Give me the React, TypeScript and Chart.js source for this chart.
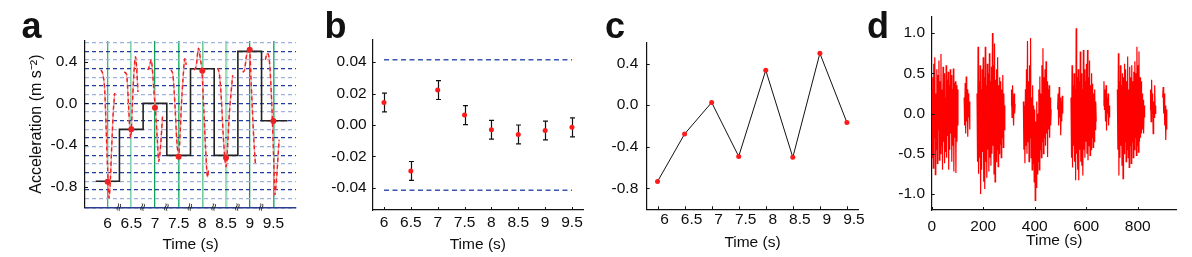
import React, { useEffect, useRef } from "react";
import { Chart, registerables } from "chart.js";

Chart.register(...registerables);

const FONT_FAMILY = 'Arial, "Liberation Sans", Helvetica, sans-serif';
const TICK_FONT = { family: FONT_FAMILY, size: 15.5 };
const TITLE_FONT = { family: FONT_FAMILY, size: 15.5 };
const TEXT = "#0d0d0d";
const H = 257;

// ---------- panel a ----------
const aXTicks = [6, 6.5, 7, 7.5, 8, 8.5, 9, 9.5];
const aYTicks = [-0.8, -0.4, 0, 0.4];
const aSampleT = [6, 6.5, 7, 7.5, 8, 8.5, 9, 9.5];
const aSampleV = [-0.754, -0.25, -0.042, -0.513, 0.313, -0.523, 0.515, -0.17];
const aStepT = [5.75, 6.25, 6.75, 7.25, 7.75, 8.25, 8.75, 9.25, 9.8];
const aStepV = [-0.75, -0.25, 0, -0.5, 0.3333, -0.5, 0.5, -0.1667, -0.1667];
const aCurveT = [
  5.86, 5.9, 5.94, 5.97, 6.0, 6.03, 6.06, 6.09, 6.12, 6.15, null,
  6.35, 6.4, 6.44, 6.47, 6.49, 6.52, 6.55, 6.59, 6.62, 6.64, null,
  6.85, 6.89, 6.92, 6.95, 6.98, 7.01, 7.05, 7.08, 7.12, 7.16, null,
  7.34, 7.38, 7.42, 7.46, 7.5, 7.53, 7.56, 7.59, 7.63, 7.66, null,
  7.83, 7.87, 7.92, 7.96, 7.99, 8.03, 8.07, 8.11, 8.13, null,
  8.32, 8.36, 8.4, 8.44, 8.47, 8.5, 8.54, 8.57, 8.61, 8.64, null,
  8.85, 8.89, 8.93, 8.97, 9.0, 9.03, 9.06, 9.09, 9.12, null,
  9.33, 9.37, 9.4, 9.43, 9.46, 9.48, 9.51, 9.53, 9.57, 9.62,
];
const aCurveV = [
  0.32, 0.28, 0.12, -0.25, -0.62, -0.91, -0.72, -0.38, -0.08, 0.1, null,
  0.3, 0.28, 0.0, -0.26, -0.33, -0.05, 0.25, 0.45, 0.29, 0.11, null,
  0.32, 0.37, 0.42, 0.3, 0.1, -0.06, -0.35, -0.56, -0.4, -0.12, null,
  0.32, 0.27, 0.0, -0.35, -0.51, -0.3, 0.0, 0.22, 0.43, 0.37, null,
  0.32, 0.36, 0.53, 0.42, 0.32, -0.05, -0.45, -0.71, -0.64, null,
  0.34, 0.28, 0.05, -0.3, -0.5, -0.61, -0.35, -0.1, 0.12, 0.27, null,
  0.3, 0.32, 0.45, 0.51, 0.5, 0.2, -0.1, -0.38, -0.58, null,
  0.42, 0.48, 0.46, 0.32, 0.05, -0.18, -0.6, -0.88, -0.7, -0.35,
];
const aLevels = [
  0.5833, 0.5, 0.4167, 0.3333, 0.25, 0.1667, 0.0833, 0, -0.0833, -0.1667,
  -0.25, -0.3333, -0.4167, -0.5, -0.5833, -0.6667, -0.75, -0.8333, -0.9167, -1,
];
const aBreaks = [6.25, 6.75, 7.25, 7.75, 8.25, 8.75, 9.25];

// ---------- panel b ----------
const bXTicks = [6, 6.5, 7, 7.5, 8, 8.5, 9, 9.5];
const bYTicks = [-0.04, -0.02, 0, 0.02, 0.04];
const bX = [6, 6.5, 7, 7.5, 8, 8.5, 9, 9.5];
const bY = [0.0143, -0.0292, 0.0222, 0.0063, -0.003, -0.006, -0.0035, -0.0015];
const bErr = [0.006, 0.006, 0.006, 0.006, 0.006, 0.006, 0.006, 0.006];
const bBoundT = [6, 9.5];
const bBounds = [0.0415, -0.0415];

// ---------- panel c ----------
const cXTicks = [6, 6.5, 7, 7.5, 8, 8.5, 9, 9.5];
const cYTicks = [-0.8, -0.4, 0, 0.4];
const cX = [6, 6.5, 7, 7.5, 8, 8.5, 9, 9.5];
const cY = [-0.733, -0.277, 0.026, -0.492, 0.335, -0.501, 0.498, -0.167];

// ---------- panel d ----------
const dXTicks = [0, 200, 400, 600, 800];
const dYTicks = [-1, -0.5, 0, 0.5, 1];
const dStep = 2;
const dStarts = [0, 126, 176, 308, 356, 489, 541, 667, 721, 848, 897];
const dB1 = [
  0.3, -0.55, 0.45, -0.68, 0.62, -0.3, 0.7, -0.76, 0.25, -0.45, 0.55, -0.62, 0.48, -0.2, 0.66, -0.58,
  0.4, -0.5, 0.74, -0.4, 0.3, -0.7, 0.58, -0.35, 0.5, -0.62, 0.2, -0.48, 0.6, -0.55, 0.42, -0.28,
  0.52, -0.7, 0.35, -0.45, 0.55, -0.25, 0.48, -0.6, 0.3, -0.4, 0.56, -0.72, 0.38, -0.3, 0.4, -0.74,
  0.35, -0.35, 0.3, -0.15,
];
const dB2 = [0.2, -0.15, 0.38, -0.25, 0.46, -0.1, 0.3, -0.29, 0.25, -0.05, 0.15, -0.2];
const dB3 = [
  0.25, -0.6, 0.83, -0.75, 0.4, -0.55, 0.6, -1.0, 0.3, -0.7, 0.55, -0.48, 0.7, -0.85, 0.45, -0.94,
  0.83, -0.6, 0.35, -0.8, 0.62, -0.45, 0.5, -0.72, 0.75, -0.55, 0.4, -0.65, 0.58, -0.5, 1.0, -0.4,
  0.6, -0.75, 0.87, -0.85, 0.42, -0.6, 0.55, -0.45, 0.7, -0.66, 0.35, -0.5, 0.45, -0.38, 0.4, -0.55,
  0.3, -0.3, 0.48, -0.42, 0.25, -0.2, 0.1,
];
const dB4 = [0.1, 0.3, -0.05, 0.35, 0.05, -0.15, 0.25, 0.0, 0.12];
const dB5 = [
  0.15, -0.45, 0.1, -0.62, 0.3, -0.4, 0.55, -0.5, 0.9, -0.35, 0.4, -0.6, 0.6, -0.3, 0.94, -0.55,
  0.2, -0.7, 0.35, -0.62, 0.1, -0.85, 0.05, -1.08, -0.1, -0.92, 0.15, -0.75, 0.0, -0.6, 0.3, -0.7,
  0.46, -0.45, 0.25, -0.55, 0.6, -0.35, 0.81, -0.5, 0.45, -0.3, 0.55, -0.4, 0.65, -0.25, 0.4, -0.54,
  0.3, -0.2, 0.35, -0.3, 0.2, -0.15, 0.05,
];
const dB6 = [0.05, 0.25, -0.15, 0.33, -0.05, 0.2, -0.27, 0.15, -0.1, 0.22, 0.0];
const dB7 = [
  0.2, -0.55, 0.6, -0.67, 0.35, -0.4, 0.5, -0.6, 0.3, -0.83, 1.06, -0.5, 0.45, -0.7, 0.55, -0.83,
  0.4, -0.45, 0.77, -0.6, 0.5, -0.65, 0.3, -0.77, 0.79, -0.45, 0.55, -0.55, 0.4, -0.35, 0.62, -0.5,
  0.79, -0.58, 0.45, -0.4, 0.66, -0.52, 0.35, -0.45, 0.5, -0.3, 0.37, -0.42, 0.25, -0.35, 0.3, -0.2,
  0.15, -0.1,
];
const dB8 = [0.1, 0.4, 0.05, 0.3, -0.1, 0.35, -0.21, 0.2, 0.0, 0.25, -0.15, 0.1, -0.05];
const dB9 = [
  0.3, -0.45, 0.75, -0.77, 0.4, -0.55, 0.6, -0.4, 0.35, -0.65, 0.5, -0.81, 0.45, -0.5, 0.62, -0.35,
  0.55, -0.6, 0.4, -0.45, 0.71, -0.55, 0.3, -0.67, 0.58, -0.4, 0.45, -0.62, 0.6, -0.35, 0.4, -0.55,
  0.52, -0.45, 0.65, -0.3, 0.5, -0.52, 0.83, -0.4, 0.6, -0.48, 0.77, -0.35, 0.45, -0.3, 0.4, -0.25,
  0.25, -0.2, 0.17, -0.25, 0.1, -0.05,
];
const dB10 = [0.05, 0.3, -0.1, 0.42, 0.0, 0.25, -0.25, 0.15, -0.05, 0.35, 0.0, 0.1];
const dB11 = [0.2, 0.33, 0.0, 0.25, -0.15, 0.1, -0.33, 0.05, -0.2];
const dBursts = [dB1, dB2, dB3, dB4, dB5, dB6, dB7, dB8, dB9, dB10, dB11];

// ---------- styles ----------
const aGreenColors = ["#2fba72", "#7fd6a6", "#12a05a", "#2fba72", "#6fcf9a", "#9fe0bd", "#0f9a55", "#2fba72"];
const aGreenWidths = [1.3, 1.6, 1.3, 1.6, 1.6, 2.5, 1.3, 1.6];
const BLUE_DARK = "#223d9c";
const BLUE_LIGHT = "#a2b2e0";

function fixedTicks(values: number[]) {
  return (scale: any) => {
    scale.ticks = values.map((v) => ({ value: v }));
  };
}

const inTicks = {
  id: "inTicks",
  afterDraw(chart: any, _args: any, opts: any) {
    const { ctx, chartArea } = chart;
    ctx.save();
    ctx.strokeStyle = "#111";
    ctx.lineWidth = 1;
    if (opts.x) {
      const s = chart.scales.x;
      s.ticks.forEach((t: any) => {
        const p = Math.round(s.getPixelForValue(t.value)) + 0.5;
        ctx.beginPath();
        ctx.moveTo(p, chartArea.bottom);
        ctx.lineTo(p, chartArea.bottom - 3);
        ctx.stroke();
      });
    }
    if (opts.y) {
      const s = chart.scales.y;
      s.ticks.forEach((t: any) => {
        const p = Math.round(s.getPixelForValue(t.value)) + 0.5;
        ctx.beginPath();
        ctx.moveTo(chartArea.left, p);
        ctx.lineTo(chartArea.left + 3, p);
        ctx.stroke();
      });
    }
    ctx.restore();
  },
};

const errorBars = {
  id: "errorBars",
  beforeDatasetsDraw(chart: any) {
    const { ctx } = chart;
    const xs = chart.scales.x;
    const ys = chart.scales.y;
    ctx.save();
    ctx.strokeStyle = "#111";
    ctx.lineWidth = 1.2;
    bX.forEach((x, i) => {
      const px = Math.round(xs.getPixelForValue(x)) + 0.5;
      const top = ys.getPixelForValue(bY[i] + bErr[i]);
      const bot = ys.getPixelForValue(bY[i] - bErr[i]);
      ctx.beginPath();
      ctx.moveTo(px, top);
      ctx.lineTo(px, bot);
      ctx.moveTo(px - 2.5, top);
      ctx.lineTo(px + 2.5, top);
      ctx.moveTo(px - 2.5, bot);
      ctx.lineTo(px + 2.5, bot);
      ctx.stroke();
    });
    ctx.restore();
  },
};

const breakMarks = {
  id: "breakMarks",
  afterDraw(chart: any) {
    const { ctx, chartArea } = chart;
    const xs = chart.scales.x;
    ctx.save();
    ctx.fillStyle = "#222";
    ctx.font = '11px "DejaVu Sans", sans-serif';
    ctx.textAlign = "center";
    ctx.textBaseline = "middle";
    aBreaks.forEach((t) => {
      const px = xs.getPixelForValue(t);
      ctx.save();
      ctx.translate(px, chartArea.bottom);
      ctx.rotate(-Math.PI / 2.4);
      ctx.fillText("\u2248", 0, 0);
      ctx.restore();
    });
    ctx.restore();
  },
};

function baseOptions(padRight: number, padTop: number) {
  return {
    animation: false,
    responsive: false,
    maintainAspectRatio: false,
    devicePixelRatio: 1,
    layout: { padding: { left: 0, right: padRight, top: padTop, bottom: 0 } },
    plugins: { legend: { display: false }, tooltip: { enabled: false } },
  } as any;
}

function xAxis(min: number, max: number, ticks: number[], height: number, labelPad: number, titlePadBottom: number, extra: any = {}) {
  return {
    type: "linear",
    min,
    max,
    afterBuildTicks: fixedTicks(ticks),
    afterFit: (s: any) => {
      s.height = height;
    },
    ticks: { font: TICK_FONT, color: TEXT, padding: labelPad, maxRotation: 0, autoSkip: false, callback: (v: any) => String(v), ...(extra.ticks || {}) },
    grid: { display: false, drawTicks: false, ...(extra.grid || {}) },
    border: { display: true, color: "#111", width: 1.2, ...(extra.border || {}) },
    title: { display: true, text: "Time (s)", font: TITLE_FONT, color: TEXT, padding: { top: 0, bottom: titlePadBottom } },
  };
}

function yAxis(min: number, max: number, ticks: number[], width: number, labelPad: number, digits: number, extra: any = {}) {
  return {
    type: "linear",
    min,
    max,
    afterBuildTicks: fixedTicks(ticks),
    afterFit: (s: any) => {
      s.width = width;
    },
    ticks: { font: TICK_FONT, color: TEXT, padding: labelPad, callback: (v: any) => Number(v).toFixed(digits) },
    grid: { display: false, drawTicks: false },
    border: { display: true, color: "#111", width: 1.2 },
    ...extra,
  };
}

function configA() {
  const curve = aCurveT.map((t, i) => ({ x: t === null ? (aCurveT[i - 1] as number) : t, y: aCurveV[i] }));
  const opts = baseOptions(3, 41);
  opts.plugins.inTicks = { y: true };
  opts.scales = {
    x: xAxis(5.523, 9.977, aXTicks, H - 207.3, 7.2, 3, {
      grid: {
        display: true,
        drawTicks: false,
        color: (c: any) => aGreenColors[c.index] || "#2fba72",
        lineWidth: (c: any) => aGreenWidths[c.index] || 1.3,
      },
      border: { color: "#2a3f90", width: 1.5 },
    }),
    y: yAxis(-1, 0.6, aYTicks, 85, 7.7, 1, {
      title: { display: true, text: "Acceleration (m s\u207B\u00B2)", font: { family: FONT_FAMILY, size: 16 }, color: TEXT, padding: { top: 27, bottom: 0 } },
    }),
    yg: {
      type: "linear",
      position: "right",
      min: -1,
      max: 0.6,
      afterBuildTicks: fixedTicks(aLevels),
      afterFit: (s: any) => {
        s.width = 0;
      },
      ticks: { display: false },
      grid: {
        display: true,
        drawTicks: false,
        lineWidth: 1.3,
        color: (c: any) => {
          const v = c.tick ? c.tick.value : 0;
          return Math.abs(Math.round(v * 12)) % 2 === 0 ? BLUE_DARK : BLUE_LIGHT;
        },
      },
      border: { display: false, dash: [4, 3] },
    },
  };
  return {
    type: "line",
    data: {
      datasets: [
        {
          data: aSampleT.map((t, i) => ({ x: t, y: aSampleV[i] })),
          showLine: false,
          pointRadius: 3,
          pointBackgroundColor: "#ee2222",
          pointBorderColor: "#ee2222",
          pointBorderWidth: 0,
        },
        {
          data: curve,
          borderColor: "#ee2020",
          borderWidth: 1.4,
          borderDash: [4, 3],
          pointRadius: 0,
          spanGaps: false,
          cubicInterpolationMode: "monotone",
        },
        {
          data: curve,
          borderColor: "#f6a8a8",
          borderWidth: 1.4,
          pointRadius: 0,
          spanGaps: false,
          cubicInterpolationMode: "monotone",
        },
        {
          data: aStepT.map((t, i) => ({ x: t, y: aStepV[i] })),
          stepped: "before",
          borderColor: "#222",
          borderWidth: 1.6,
          pointRadius: 0,
        },
      ],
    },
    options: opts,
    plugins: [inTicks, breakMarks],
  } as any;
}

function configB() {
  const opts = baseOptions(17, 40);
  opts.plugins.inTicks = { x: true, y: true };
  opts.scales = {
    x: xAxis(5.79, 9.705, bXTicks, H - 210, 3.5, 3),
    y: yAxis(-0.054, 0.054, bYTicks, 72.7, 6, 2),
  };
  const bounds = bBounds.map((v) => ({
    data: bBoundT.map((t) => ({ x: t, y: v })),
    borderColor: "#3a56b0",
    borderWidth: 1.5,
    borderDash: [5, 3.5],
    pointRadius: 0,
  }));
  return {
    type: "line",
    data: {
      datasets: [
        {
          data: bX.map((t, i) => ({ x: t, y: bY[i] })),
          showLine: false,
          pointRadius: 2.5,
          pointBackgroundColor: "#ff1a1a",
          pointBorderColor: "#ff1a1a",
          pointBorderWidth: 0,
        },
        ...bounds,
      ],
    },
    options: opts,
    plugins: [inTicks, errorBars],
  } as any;
}

function configC() {
  const opts = baseOptions(21.7, 42.7);
  opts.plugins.inTicks = { x: true, y: true };
  opts.scales = {
    x: xAxis(5.8, 9.71, cXTicks, H - 209.3, 1.2, 5, { ticks: { labelOffset: 7 } }),
    y: yAxis(-1, 0.6, cYTicks, 46.7, 8.4, 1),
  };
  return {
    type: "line",
    data: {
      datasets: [
        {
          data: cX.map((t, i) => ({ x: t, y: cY[i] })),
          borderColor: "#111",
          borderWidth: 1,
          pointRadius: 2.5,
          pointBackgroundColor: "#ff1a1a",
          pointBorderColor: "#ff1a1a",
          pointBorderWidth: 0,
        },
      ],
    },
    options: opts,
    plugins: [inTicks],
  } as any;
}

function configD() {
  const data: { x: number; y: number | null }[] = [];
  dBursts.forEach((vals, k) => {
    vals.forEach((v, i) => data.push({ x: dStarts[k] + i * dStep, y: v }));
    data.push({ x: dStarts[k] + vals.length * dStep, y: null });
  });
  const opts = baseOptions(15.3, 17);
  opts.plugins.inTicks = { x: true, y: true };
  opts.scales = {
    x: xAxis(0, 951.5, dXTicks, H - 210, 7, 6.5),
    y: yAxis(-1.2, 1.2, dYTicks, 51.7, 6.7, 1),
  };
  return {
    type: "line",
    data: {
      datasets: [
        {
          data,
          borderColor: "#ff0000",
          borderWidth: 1.2,
          pointRadius: 0,
          spanGaps: false,
        },
      ],
    },
    options: opts,
    plugins: [inTicks],
  } as any;
}

function Panel({ left, width, build }: { left: number; width: number; build: () => any }) {
  const ref = useRef<HTMLCanvasElement>(null);
  useEffect(() => {
    const chart = new Chart(ref.current as HTMLCanvasElement, build());
    return () => chart.destroy();
  }, []);
  return (
    <canvas
      ref={ref}
      width={width}
      height={H}
      style={{ position: "absolute", left, top: 0, width, height: H, display: "block" }}
    />
  );
}

const letterStyle: React.CSSProperties = {
  position: "absolute",
  top: 8,
  fontFamily: FONT_FAMILY,
  fontWeight: "bold",
  fontSize: 36,
  lineHeight: "36px",
  color: "#111",
};

export default function App() {
  return (
    <div style={{ position: "absolute", left: 0, top: 0, width: 1192, height: H, background: "#fff", overflow: "hidden" }}>
      <Panel left={0} width={300} build={configA} />
      <Panel left={300} width={300} build={configB} />
      <Panel left={600} width={280} build={configC} />
      <Panel left={880} width={312} build={configD} />
      <div style={{ ...letterStyle, left: 21.5 }}>a</div>
      <div style={{ ...letterStyle, left: 324.5 }}>b</div>
      <div style={{ ...letterStyle, left: 605 }}>c</div>
      <div style={{ ...letterStyle, left: 867 }}>d</div>
    </div>
  );
}
